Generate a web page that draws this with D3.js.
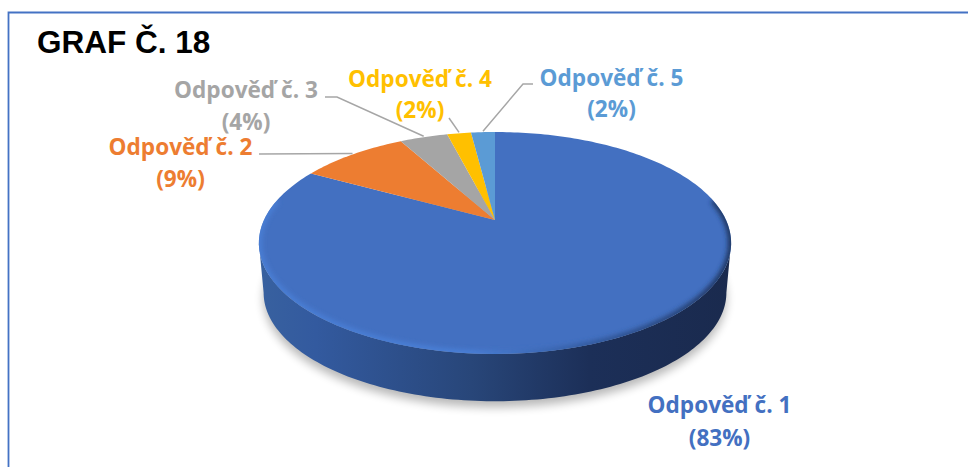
<!DOCTYPE html>
<html>
<head>
<meta charset="utf-8">
<script src="https://cdn.jsdelivr.net/npm/d3@7"></script>
<style>
    html, body { margin: 0; padding: 0; background: #fff; }
    svg { display: block; }
    text { font-family: "Open Sans", sans-serif; font-weight: 700; font-size: 22.6px; text-anchor: middle; }
</style>
</head>
<body>
<svg id="chart"></svg>
<script>
var categories = ["Odpověď č. 1", "Odpověď č. 2", "Odpověď č. 3", "Odpověď č. 4", "Odpověď č. 5"];
var values = [83, 9, 4, 2, 2];
var colors = ["#4370c1", "#ed7d31", "#a5a5a5", "#ffc000", "#5b9bd5"];

// label placement, same order as categories
var labelX = [719.5, 180.5, 246, 420, 611.5];
var labelY = [413, 155, 98, 87, 86];
var lineGap = [33, 32, 32, 31, 31];
var elbows = [null, [[259, 154]], [[325, 97], [337, 97]], [[449, 118]], [[533, 84], [523, 84]]];

var width = 968,
    height = 467;

// tilted disc: a homography of the unit circle, so the apex sits above the ellipse centre
var cx = 495,
    apexY = 220,
    scaleX = 231,
    scaleY = 106.2,
    tilt = 0.207,
    depth = 50,
    depthShrink = 0.98;

function project(angle, lower) {
    var u = Math.sin(angle),
        v = -Math.cos(angle),
        w = 1 / (1 - tilt * v),
        s = lower ? depthShrink : 1;
    return [cx + scaleX * u * w * s, apexY + (lower ? depth : 0) + scaleY * v * w * s];
}

function sample(a0, a1) {
    var n = Math.max(2, Math.ceil(Math.abs(a1 - a0) / 0.02));
    return d3.range(n + 1).map(function(i) {
        return a0 + (a1 - a0) * i / n;
    });
}

var line = d3.line();

var chart = d3.select("#chart")
    .attr("width", width)
    .attr("height", height);

var defs = chart.append("defs");

defs.append("filter").attr("id", "shadowBlur")
    .attr("x", "-10%").attr("y", "-10%").attr("width", "120%").attr("height", "120%")
    .append("feGaussianBlur").attr("stdDeviation", 5);

defs.append("filter").attr("id", "rimBlur")
    .attr("x", "-5%").attr("y", "-5%").attr("width", "110%").attr("height", "110%")
    .append("feGaussianBlur").attr("stdDeviation", 2.4);

function gradient(id, stops) {
    var g = defs.append("linearGradient").attr("id", id)
        .attr("gradientUnits", "userSpaceOnUse")
        .attr("x1", 259).attr("x2", 731).attr("y1", 0).attr("y2", 0);
    g.selectAll("stop").data(stops).enter().append("stop")
        .attr("offset", function(d) { return d[0]; })
        .attr("stop-color", function(d) { return d[1]; });
}

gradient("sideFill", [[0, "#38619f"], [0.12, "#335a9f"], [0.45, "#284679"], [0.7, "#1c2f58"], [1, "#1a2a4e"]]);
gradient("rimFill", [[0, "#4a7fd6"], [0.45, "#4a80d8"], [0.72, "#2f5596"], [1, "#1d3158"]]);

var widest = Math.acos(-tilt);
var fullCircle = sample(0, 2 * Math.PI);

var topRing = line(fullCircle.map(function(a) { return project(a, false); })) + "Z";

defs.append("clipPath").attr("id", "topClip")
    .append("path").attr("d", topRing);

// frame: only top and left edges are visible in the crop
chart.append("path")
    .attr("d", "M8.5,467V12.5H968")
    .attr("fill", "none")
    .attr("stroke", "#4472c4")
    .attr("stroke-width", 1.8);

chart.append("text")
    .attr("x", 37).attr("y", 53)
    .style("font-family", "'Liberation Sans', Arial, sans-serif")
    .style("font-weight", 700)
    .style("font-size", "31.5px")
    .style("text-anchor", "start")
    .attr("fill", "#000")
    .text("GRAF Č. 18");

// soft shadow under the disc
chart.append("path")
    .attr("d", line(fullCircle.map(function(a) {
        var p = project(a, true);
        return [p[0], p[1] + 6];
    })) + "Z")
    .attr("fill", "#000")
    .attr("opacity", 0.28)
    .attr("filter", "url(#shadowBlur)");

// side wall, front half only
var frontAngles = sample(widest, 2 * Math.PI - widest);
var sidePoints = frontAngles.map(function(a) { return project(a, false); })
    .concat(frontAngles.slice().reverse().map(function(a) { return project(a, true); }));

chart.append("path")
    .attr("d", line(sidePoints) + "Z")
    .attr("fill", "url(#sideFill)");

var pie = d3.pie().sort(null).value(function(d) { return d; });
var arcs = pie(values);

function slicePath(d) {
    var pts = sample(d.startAngle, d.endAngle).map(function(a) { return project(a, false); });
    return line([[cx, apexY]].concat(pts)) + "Z";
}

chart.append("g")
    .selectAll("path")
    .data(arcs)
    .enter().append("path")
    .attr("d", slicePath)
    .attr("fill", function(d, i) { return colors[i]; });

// bevel along the front of the top face
chart.append("g")
    .attr("clip-path", "url(#topClip)")
    .append("path")
    .attr("d", line(sample(widest - 0.4, 2 * Math.PI - widest + 0.4).map(function(a) { return project(a, false); })))
    .attr("fill", "none")
    .attr("stroke", "url(#rimFill)")
    .attr("stroke-width", 6)
    .attr("filter", "url(#rimBlur)");

// leader lines end on the slice rim at the middle of each slice
chart.append("g")
    .selectAll("path")
    .data(arcs.filter(function(d, i) { return elbows[i]; }))
    .enter().append("path")
    .attr("d", function(d) {
        var mid = (d.startAngle + d.endAngle) / 2;
        var end = project(mid, false);
        return line(elbows[d.index].concat([[end[0], end[1] - 1]]));
    })
    .attr("fill", "none")
    .attr("stroke", "#a6a6a6")
    .attr("stroke-width", 1.5);

var labels = chart.append("g")
    .selectAll("text")
    .data(categories)
    .enter().append("text")
    .attr("fill", function(d, i) { return colors[i]; });

labels.append("tspan")
    .attr("x", function(d, i) { return labelX[i]; })
    .attr("y", function(d, i) { return labelY[i]; })
    .text(function(d) { return d; });

labels.append("tspan")
    .attr("x", function(d, i) { return labelX[i]; })
    .attr("y", function(d, i) { return labelY[i] + lineGap[i]; })
    .text(function(d, i) { return "(" + values[i] + "%)"; });
</script>
</body>
</html>
